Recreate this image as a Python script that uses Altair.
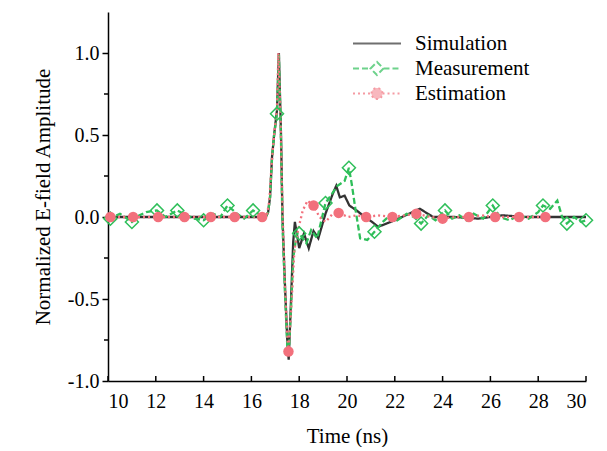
import altair as alt
import pandas as pd

# ---------------- data ----------------
series_names = ["Simulation", "Measurement", "Estimation"]

sim_t = [10, 16.6, 16.7, 16.78, 16.86, 16.95, 17.07, 17.15, 17.24, 17.3, 17.4, 17.5, 17.56,
         17.66, 17.75, 17.82, 18.0, 18.2, 18.4, 18.6, 18.8, 19.1, 19.4, 19.55, 19.7, 19.9,
         20.1, 20.4, 20.75, 21.05, 21.3, 22.0, 22.6, 23.05, 23.6, 24.5, 25.5, 26.5, 27.5,
         28.5, 30]
sim_v = [0, 0, 0.03, 0.12, 0.36, 0.5, 0.65, 1.0, 0.5, 0.0, -0.4, -0.75, -0.87,
         -0.5, -0.15, -0.03, -0.19, -0.1, -0.19, -0.085, -0.13, 0.02, 0.14, 0.19, 0.12, 0.13,
         0.07, 0.04, 0.0, -0.03, -0.06, -0.02, 0.02, 0.05, 0.0, 0.0, -0.01, 0.01, 0.0,
         0.0, 0.0]

meas_t = [10, 10.1, 10.5, 11.0, 11.3, 11.6, 12.05, 12.4, 12.9, 13.3, 13.6, 14.0, 14.4, 14.7,
          15.0, 15.4, 15.7, 16.07, 16.4, 16.6, 16.7, 16.78, 16.86, 16.95, 17.07, 17.15, 17.24,
          17.3, 17.4, 17.5, 17.56, 17.66, 17.75, 17.9, 18.0, 18.1, 18.3, 18.5, 18.75, 19.1,
          19.6, 19.9, 20.08, 20.2, 20.35, 20.55, 20.85, 21.15, 21.5, 21.8, 22.1, 22.5, 22.8,
          23.1, 23.4, 23.7, 24.1, 24.4, 24.7, 25.0, 25.3, 25.7, 26.1, 26.4, 26.8, 27.2, 27.6,
          28.0, 28.2, 28.5, 28.8, 29.0, 29.2, 29.5, 29.8, 30]
meas_v = [-0.01, -0.01, 0.02, -0.03, 0.01, 0.03, 0.04, 0.0, 0.04, 0.01, -0.01, -0.02, 0.02, 0.0,
          0.07, 0.02, -0.01, 0.04, 0.01, 0.0, 0.03, 0.12, 0.35, 0.5, 0.63, 0.99, 0.45,
          -0.05, -0.45, -0.78, -0.85, -0.55, -0.25, -0.1, -0.1, -0.12, -0.16, -0.08, -0.13, 0.085,
          0.19, 0.22, 0.30, 0.2, 0.05, -0.13, -0.14, -0.09, -0.03, 0.01, -0.02, 0.02, 0.0,
          -0.04, 0.01, -0.02, 0.04, -0.01, 0.01, -0.02, 0.02, -0.01, 0.07, 0.0, -0.02, 0.01, -0.01,
          0.03, 0.07, 0.05, 0.1, 0.0, -0.04, 0.0, -0.03, -0.02]

est_t = [10, 16.5, 16.65, 16.75, 16.85, 16.95, 17.07, 17.13, 17.22, 17.3, 17.4, 17.5, 17.55,
         17.65, 17.8, 17.95, 18.15, 18.35, 18.6, 18.85, 19.1, 19.4, 19.65, 20.05, 20.4, 20.8,
         21.3, 21.9, 22.4, 22.9, 23.5, 24.0, 24.5, 25.1, 25.6, 26.2, 26.7, 27.2, 27.8, 28.3, 28.5]
est_v = [0, 0, 0.01, 0.1, 0.33, 0.5, 0.66, 1.0, 0.6, 0.05, -0.4, -0.72, -0.82,
         -0.6, -0.2, -0.08, 0.04, 0.1, 0.07, 0.0, -0.03, 0.02, 0.025, 0.0, 0.01, 0.0,
         0.01, 0.0, 0.01, 0.02, 0.0, -0.01, 0.0, 0.0, 0.01, 0.0, 0.0, 0.0, 0.0, 0.0, 0.0]

meas_mk_t = [10.1, 11.0, 12.05, 12.9, 14.0, 15.0, 16.07, 17.07, 18.0, 19.1, 20.08, 21.15,
             23.1, 24.1, 26.1, 28.2, 29.2, 30.0]
meas_mk_v = [-0.01, -0.03, 0.04, 0.04, -0.02, 0.07, 0.04, 0.63, -0.1, 0.085, 0.30, -0.09,
             -0.04, 0.04, 0.07, 0.07, -0.04, -0.02]

est_mk_t = [10.1, 11.05, 12.1, 13.2, 14.3, 15.3, 16.45, 17.55, 18.6, 19.65, 20.8, 21.9,
            22.9, 24.0, 25.1, 26.2, 27.2, 28.3]
est_mk_v = [0, 0, 0, 0, 0, 0, 0, -0.82, 0.07, 0.025, 0.0, 0.0,
            0.02, -0.01, 0.0, 0.0, 0.0, 0.0]

x_ticks = [10, 12, 14, 16, 18, 20, 22, 24, 26, 28, 30]
y_ticks = [-1.0, -0.5, 0.0, 0.5, 1.0]
y_minor = [-0.75, -0.25, 0.25, 0.75]

# ---------------- style ----------------
colors = ["#333333", "#2fbf5a", "#f2707c"]
dashes = [[1, 0], [6, 3], [2, 3]]
legend_paths = [
    "M-1,0L1,0",
    "M-1,0L-0.27,0M-0.27,0L0,-0.27L0.27,0L0,0.27ZM0.27,0L1,0",
    "M-1,0L-0.23,0M0.23,0L1,0M-0.23,0A0.23,0.23,0,1,1,0.23,0A0.23,0.23,0,1,1,-0.23,0Z",
]
legend_fills = ["transparent", "transparent", "#f2707c"]
FONT = "Liberation Serif"

lines_df = pd.concat([
    pd.DataFrame({"t": sim_t, "v": sim_v, "series": "Simulation"}),
    pd.DataFrame({"t": meas_t, "v": meas_v, "series": "Measurement"}),
    pd.DataFrame({"t": est_t, "v": est_v, "series": "Estimation"}),
])
meas_mk = pd.DataFrame({"t": meas_mk_t, "v": meas_mk_v})
est_mk = pd.DataFrame({"t": est_mk_t, "v": est_mk_v})
legend_df = pd.DataFrame({"series": series_names})
xt_df = pd.DataFrame({"t": x_ticks})
ym_df = pd.DataFrame({"v": y_minor})

xscale = alt.Scale(domain=[10, 30], nice=False, zero=False)
yscale = alt.Scale(domain=[-1.0, 1.25], nice=False, zero=False)
leg = alt.Legend(title=None)

color_enc = alt.Color("series:N", scale=alt.Scale(domain=series_names, range=colors), legend=leg)
dash_enc = alt.StrokeDash("series:N", scale=alt.Scale(domain=series_names, range=dashes), legend=leg)

X = alt.X("t:Q", scale=xscale,
          axis=alt.Axis(values=x_ticks, title="Time (ns)", ticks=False, grid=False,
                        labelFontSize=20, titleFontSize=21, labelPadding=10, titlePadding=14,
                        domainColor="black", domainWidth=1.5, labelColor="black",
                        titleColor="black", titleFontWeight="normal", format="d",
                        labelFont=FONT, titleFont=FONT))
Y = alt.Y("v:Q", scale=yscale,
          axis=alt.Axis(values=y_ticks, title="Normalized E-field Amplitude", grid=False,
                        labelExpr="datum.value < 0 ? '-' + format(-datum.value, '.1f') : format(datum.value, '.1f')",
                        tickSize=6, tickColor="black", tickWidth=1.5,
                        labelFontSize=20, titleFontSize=21, labelPadding=3, titlePadding=14,
                        domainColor="black", domainWidth=1.5, labelColor="black",
                        titleColor="black", titleFontWeight="normal",
                        labelFont=FONT, titleFont=FONT))

lines = alt.Chart(lines_df).mark_line(strokeWidth=2.3).encode(
    x=X, y=Y, color=color_enc, strokeDash=dash_enc, order="t:Q"
)

diamonds = alt.Chart(meas_mk).mark_point(
    shape="diamond", filled=False, size=170, strokeWidth=1.5, color=colors[1], opacity=1
).encode(x="t:Q", y="v:Q")

circles = alt.Chart(est_mk).mark_point(
    shape="circle", filled=True, size=110, color=colors[2], opacity=1
).encode(x="t:Q", y="v:Q")

legend_layer = alt.Chart(legend_df).transform_filter("false").mark_point(
    filled=False, strokeWidth=2
).encode(
    color=color_enc,
    strokeDash=dash_enc,
    shape=alt.Shape("series:N", scale=alt.Scale(domain=series_names, range=legend_paths), legend=leg),
    fill=alt.Fill("series:N", scale=alt.Scale(domain=series_names, range=legend_fills), legend=leg),
)

xticks = alt.Chart(xt_df).mark_rule(color="black", strokeWidth=1.5).encode(
    x=alt.X("t:Q", scale=xscale), y=alt.value(369), y2=alt.value(364)
)
yminor = alt.Chart(ym_df).mark_rule(color="black", strokeWidth=1.5).encode(
    y=alt.Y("v:Q", scale=yscale), x=alt.value(0), x2=alt.value(-4)
)

chart = alt.layer(lines, diamonds, circles, legend_layer, xticks, yminor).properties(
    width=478, height=369,
    autosize=alt.AutoSizeParams(type="none"),
    padding={"left": 100, "top": 4, "right": 13, "bottom": 66},
    background="white",
).configure_view(stroke=None).configure_legend(
    orient="none", legendX=244, legendY=20, symbolSize=2304, symbolStrokeWidth=2,
    clipHeight=23, rowPadding=2, labelOffset=13, labelFont=FONT, labelFontSize=21,
    labelColor="black", padding=0, symbolLimit=0
)

chart.save("out.html", embed_options={"renderer": "svg", "actions": False})
